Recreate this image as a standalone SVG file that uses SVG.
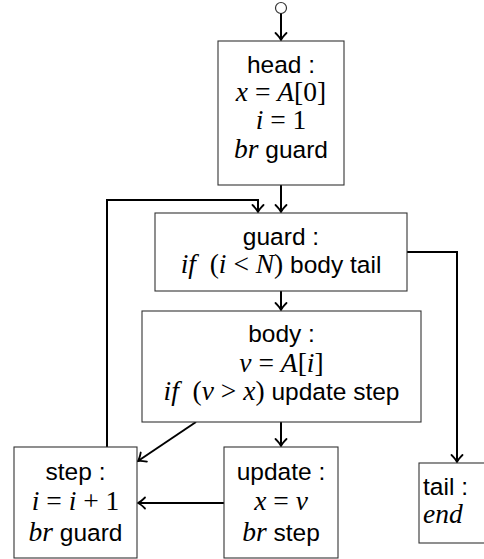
<svg xmlns="http://www.w3.org/2000/svg" width="484" height="559" viewBox="0 0 484 559">
<style>
.box{fill:#fff;stroke:#333;stroke-width:1.1}
.t{font-family:"Liberation Sans",Arial,sans-serif;font-size:24.5px;fill:#000;text-anchor:middle;white-space:pre}
.m{font-family:"Liberation Serif","Times New Roman",serif;font-size:27.5px}
.i{font-style:italic}
.c{fill:none;stroke:#000;stroke-width:2;marker-end:url(#arr)}
</style>
<defs>
<marker id="arr" markerUnits="userSpaceOnUse" markerWidth="16" markerHeight="16" viewBox="-9 -8 11 16" refX="0" refY="0" orient="auto">
<path d="M-7,-5.5 Q-2.5,-1 0,0 Q-2.5,1 -7,5.5" fill="none" stroke="#000" stroke-width="1.8" stroke-linecap="round"/>
</marker>
</defs>
<g id="connectors">
<circle cx="281" cy="8" r="5.5" fill="#fff" stroke="#333" stroke-width="1.2"/>
<path class="c" d="M281,13.5 V40"/>
<path class="c" d="M281,185 V212"/>
<path class="c" d="M107,447 V200 H258 V212"/>
<path class="c" d="M407,252 H457 V462"/>
<path class="c" d="M281,291 V310"/>
<path class="c" d="M281,422 V446"/>
<path class="c" d="M196,422 L138,461"/>
<path class="c" d="M224,503 H138"/>
</g>
<g id="head">
<rect class="box" x="218" y="41" width="126" height="144"/>
<text class="t" x="281" y="73">head :</text>
<text class="t" x="281" y="101" xml:space="preserve"><tspan class="m i">x</tspan><tspan class="m"> = </tspan><tspan class="m i">A</tspan><tspan class="m">[0]</tspan></text>
<text class="t" x="281" y="129" xml:space="preserve"><tspan class="m i">i</tspan><tspan class="m"> = 1</tspan></text>
<text class="t" x="281" y="158" xml:space="preserve"><tspan class="m i">br</tspan> guard</text>
</g>
<g id="guard">
<rect class="box" x="155" y="213" width="252" height="78"/>
<text class="t" x="281" y="245">guard :</text>
<text class="t" x="281" y="273" xml:space="preserve"><tspan class="m i">if</tspan><tspan class="m">  (</tspan><tspan class="m i">i</tspan><tspan class="m"> &lt; </tspan><tspan class="m i">N</tspan><tspan class="m">)</tspan> body tail</text>
</g>
<g id="body">
<rect class="box" x="142" y="311" width="279" height="111"/>
<text class="t" x="281.5" y="342">body :</text>
<text class="t" x="281.5" y="372" xml:space="preserve"><tspan class="m i">v</tspan><tspan class="m"> = </tspan><tspan class="m i">A</tspan><tspan class="m">[</tspan><tspan class="m i">i</tspan><tspan class="m">]</tspan></text>
<text class="t" x="281.5" y="400" xml:space="preserve"><tspan class="m i">if</tspan><tspan class="m">  (</tspan><tspan class="m i">v</tspan><tspan class="m"> &gt; </tspan><tspan class="m i">x</tspan><tspan class="m">)</tspan> update step</text>
</g>
<g id="step">
<rect class="box" x="14" y="447" width="123" height="111"/>
<text class="t" x="75.5" y="480">step :</text>
<text class="t" x="75.5" y="510" xml:space="preserve"><tspan class="m i">i</tspan><tspan class="m"> = </tspan><tspan class="m i">i</tspan><tspan class="m"> + 1</tspan></text>
<text class="t" x="75.5" y="541" xml:space="preserve"><tspan class="m i">br</tspan> guard</text>
</g>
<g id="update">
<rect class="box" x="224" y="447" width="114" height="111"/>
<text class="t" x="281" y="480">update :</text>
<text class="t" x="281" y="510" xml:space="preserve"><tspan class="m i">x</tspan><tspan class="m"> = </tspan><tspan class="m i">v</tspan></text>
<text class="t" x="281" y="541" xml:space="preserve"><tspan class="m i">br</tspan> step</text>
</g>
<g id="tail">
<rect class="box" x="419" y="463" width="80" height="80"/>
<text class="t" x="423" y="495" style="text-anchor:start">tail :</text>
<text class="t" x="423" y="523" style="text-anchor:start"><tspan class="m i">end</tspan></text>
</g>
</svg>
